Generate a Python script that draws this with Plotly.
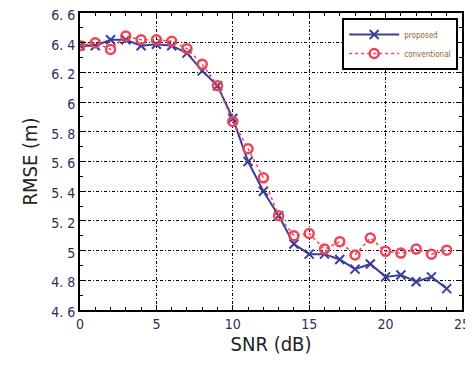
import plotly.graph_objects as go

snr = list(range(0, 25))
proposed = [6.38, 6.38, 6.42, 6.42, 6.38, 6.39, 6.38, 6.33, 6.21, 6.11, 5.89,
            5.60, 5.40, 5.235, 5.044, 4.976, 4.976, 4.94, 4.875, 4.91, 4.823,
            4.836, 4.79, 4.823, 4.744]
conventional = [6.38, 6.40, 6.355, 6.445, 6.42, 6.42, 6.41, 6.36, 6.255, 6.11, 5.87,
                5.686, 5.49, 5.235, 5.10, 5.115, 5.01, 5.06, 4.97, 5.085, 4.995,
                4.983, 5.01, 4.976, 5.003]
xticks = [0, 5, 10, 15, 20, 25]
yticks = [4.6, 4.8, 5.0, 5.2, 5.4, 5.6, 5.8, 6.0, 6.2, 6.4, 6.6]
yticklabels = ["4. 6", "4. 8", "5", "5. 2", "5. 4", "5. 6", "5. 8", "6", "6. 2", "6. 4", "6. 6"]

FONT = "DejaVu Sans Condensed, Liberation Sans Narrow, Liberation Sans, sans-serif"

fig = go.Figure()
fig.add_trace(go.Scatter(
    x=snr, y=proposed, name="proposed", mode="lines+markers",
    line=dict(color="#3b3f99", width=2),
    marker=dict(symbol="x-thin-open", size=9, line=dict(color="#3b3f99", width=2)),
))
fig.add_trace(go.Scatter(
    x=snr, y=conventional, name="conventional", mode="lines+markers",
    line=dict(color="#ee4455", width=1.5, dash="dot"),
    marker=dict(symbol="circle-open", size=9, line=dict(color="#e8303a", width=2.5)),
))

axis_common = dict(
    showline=True, linecolor="black", linewidth=2, mirror="ticks",
    ticks="inside", ticklen=5, tickcolor="black", tickwidth=1,
    showgrid=True, gridcolor="black", gridwidth=1, griddash="3px,2px,1px,2px",
    zeroline=False, automargin=False, ticklabeloverflow="allow",
)

fig.update_xaxes(
    range=[0, 25], tickvals=xticks, ticktext=[str(v) for v in xticks],
    minor=dict(dtick=1, ticks="inside", ticklen=3, tickcolor="black", showgrid=False),
    tickfont=dict(family=FONT, size=14, color="#2b2f55"),
    title=dict(text="SNR (dB)", font=dict(family=FONT, size=20, color="#222"), standoff=6),
    **axis_common,
)
fig.update_yaxes(
    range=[4.6, 6.6], tickvals=yticks, ticktext=yticklabels,
    minor=dict(dtick=0.1, tick0=4.6, ticks="inside", ticklen=3, tickcolor="black", showgrid=False),
    tickfont=dict(family=FONT, size=14, color="#2b2f55"),
    ticklabelshift=2,
    title=dict(text="RMSE (m)", font=dict(family=FONT, size=20, color="#222"), standoff=8),
    **axis_common,
)

fig.update_layout(
    width=465, height=359,
    margin=dict(l=72, r=11, t=5, b=57),
    paper_bgcolor="white", plot_bgcolor="white",
    showlegend=True,
    legend=dict(
        x=0.99, y=0.983, xanchor="right", yanchor="top",
        bgcolor="white", bordercolor="black", borderwidth=2,
        font=dict(family=FONT, size=8, color="#8a6a2a"),
        tracegroupgap=0, itemwidth=50,
    ),
)

fig.write_html("out.html")
